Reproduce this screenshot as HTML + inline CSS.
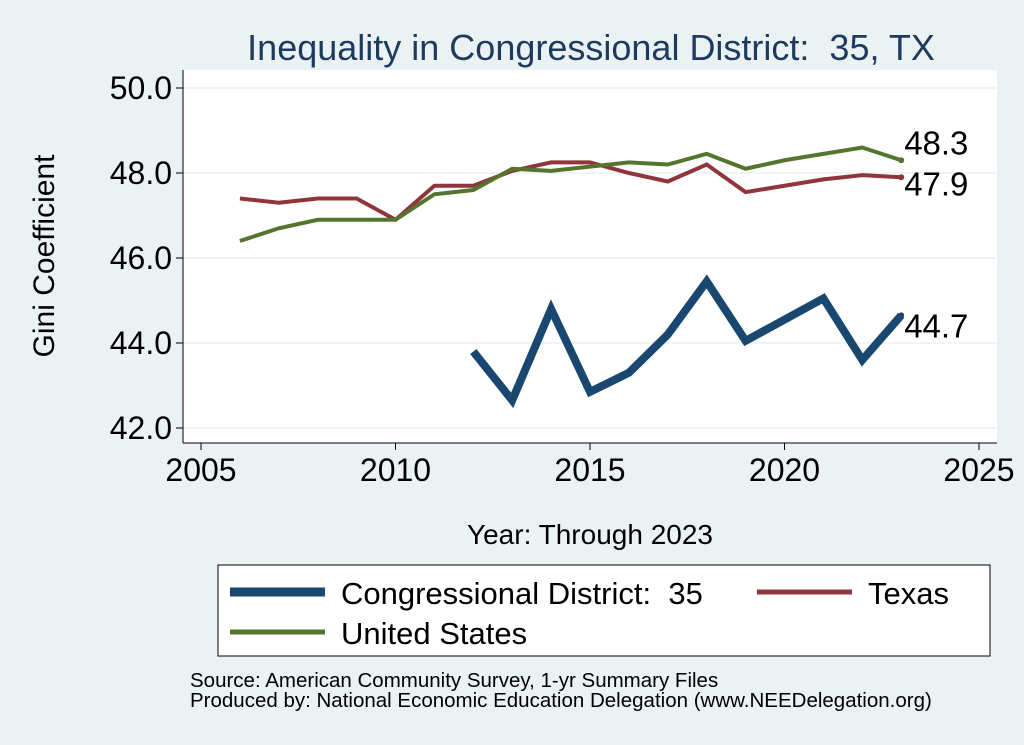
<!DOCTYPE html>
<html><head><meta charset="utf-8"><style>
body{margin:0;background:#eaf2f3;}
svg{display:block;font-family:"Liberation Sans",Arial,sans-serif;}
text{white-space:pre;}
</style></head><body>
<svg width="1024" height="745" viewBox="0 0 1024 745">
<rect x="0" y="0" width="1024" height="745" fill="#eaf2f3"/>
<rect x="183" y="70" width="814" height="373" fill="#ffffff"/>
<text x="591" y="60" font-size="36" fill="#1e3a5f" text-anchor="middle" xml:space="preserve">Inequality in Congressional District:  35, TX</text>
<g id="grid"></g>
<g id="axes"></g>
<g id="series"></g>
<text transform="translate(54,256) rotate(-90)" font-size="30" text-anchor="middle" fill="#000">Gini Coefficient</text>
<text x="590" y="544" font-size="28" text-anchor="middle" fill="#000">Year: Through 2023</text>
<g>
<rect x="218" y="565" width="772" height="91" fill="#fff" stroke="#000" stroke-width="1"/>
<line x1="230" y1="592" x2="325" y2="592" stroke="#1a476f" stroke-width="9"/>
<text x="341" y="604" font-size="31" xml:space="preserve">Congressional District:  35</text>
<line x1="757" y1="592" x2="852" y2="592" stroke="#90353b" stroke-width="5"/>
<text x="868" y="604" font-size="31">Texas</text>
<line x1="230" y1="632" x2="325" y2="632" stroke="#55752f" stroke-width="5"/>
<text x="341" y="644" font-size="31">United States</text>
</g>
<text x="190" y="687" font-size="20.5">Source: American Community Survey, 1-yr Summary Files</text>
<text x="190" y="707" font-size="20.5">Produced by: National Economic Education Delegation (www.NEEDelegation.org)</text>
</svg>
<script>
const cdYears=[2012,2013,2014,2015,2016,2017,2018,2019,2020,2021,2022,2023];
const cdValues=[43.8,42.65,44.8,42.85,43.3,44.2,45.45,44.05,44.55,45.05,43.6,44.65];
const years=[2006,2007,2008,2009,2010,2011,2012,2013,2014,2015,2016,2017,2018,2019,2020,2021,2022,2023];
const txValues=[47.4,47.3,47.4,47.4,46.9,47.7,47.7,48.05,48.25,48.25,48.0,47.8,48.2,47.55,47.7,47.85,47.95,47.9];
const usValues=[46.4,46.7,46.9,46.9,46.9,47.5,47.6,48.1,48.05,48.15,48.25,48.2,48.45,48.1,48.3,48.45,48.6,48.3];
const endLabels=["48.3","47.9","44.7"];
const xTicks=[2005,2010,2015,2020,2025];
const yTicks=[42,44,46,48,50];
const yTickLabels=["42.0","44.0","46.0","48.0","50.0"];
const NS="http://www.w3.org/2000/svg";
const xs=v=>201+(v-2005)*(979-201)/20;
const ys=v=>428-(v-42)*(428-88)/8;
function mk(t,a,p){const e=document.createElementNS(NS,t);for(const k in a)e.setAttribute(k,a[k]);p.appendChild(e);return e;}
const grid=document.getElementById('grid'),axes=document.getElementById('axes'),ser=document.getElementById('series');
mk('line',{x1:183,y1:70,x2:183,y2:443,stroke:'#000','stroke-width':1},axes);
mk('line',{x1:183,y1:443,x2:997,y2:443,stroke:'#000','stroke-width':1},axes);
yTicks.forEach((v,i)=>{
 const g=mk('line',{x1:183,y1:ys(v),x2:997,y2:ys(v),stroke:'#eaf2f3','stroke-width':1.5},grid);
 
 
 mk('line',{x1:176,y1:ys(v),x2:183,y2:ys(v),stroke:'#000'},axes);
 const t=mk('text',{x:172,y:ys(v)+11,'font-size':32,'text-anchor':'end'},axes);t.textContent=yTickLabels[i];
 
 
});
xTicks.forEach(v=>{
 mk('line',{x1:xs(v),y1:443,x2:xs(v),y2:450,stroke:'#000'},axes);
 const t=mk('text',{x:xs(v),y:481,'font-size':32,'text-anchor':'middle'},axes);t.textContent=v;
 
 
});
function line(xv,yv,color,w,name){
 const p=mk('polyline',{points:xv.map((x,i)=>xs(x)+','+ys(yv[i])).join(' '),fill:'none',stroke:color,'stroke-width':w,'stroke-linejoin':'miter'},ser);
 
 
 const lx=xs(xv[xv.length-1]),ly=ys(yv[yv.length-1]);
 mk('circle',{cx:lx,cy:ly,r:3,fill:color},ser);
}
line(years,txValues,'#90353b',4,'texas-line');
line(years,usValues,'#55752f',4,'us-line');
line(cdYears,cdValues,'#1a476f',8,'cd35-line');
function lab(v,txt,dy,name){const t=mk('text',{x:xs(2023)+3,y:ys(v)+dy,'font-size':33},ser);t.textContent=txt;
 
 }
lab(usValues[usValues.length-1],endLabels[0],-6,'us-end-label');
lab(txValues[txValues.length-1],endLabels[1],18,'texas-end-label');
lab(cdValues[cdValues.length-1],endLabels[2],22,'cd35-end-label');
</script>
</body></html>
